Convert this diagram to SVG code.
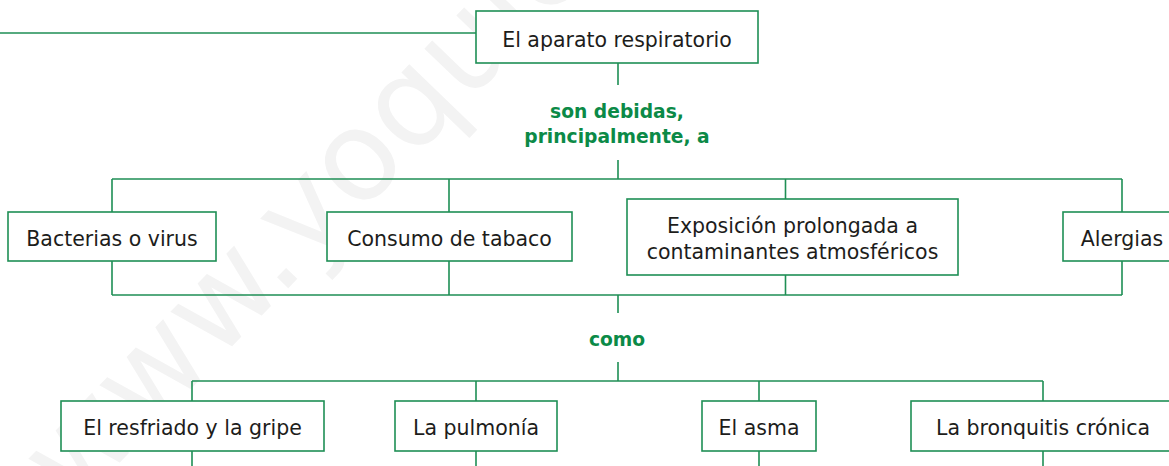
<svg xmlns="http://www.w3.org/2000/svg" width="1169" height="466" viewBox="0 0 1169 466">
  <style>
    .box { fill: #ffffff; stroke: #1f8f55; stroke-width: 1.6; }
    .lbl { font-family: "DejaVu Sans", "Liberation Sans", sans-serif; font-size: 20.5px; fill: #1d1d1b; text-anchor: middle; }
    .conn { fill: none; stroke: #1f8f55; stroke-width: 1.6; }
    .link { font-family: "DejaVu Sans", "Liberation Sans", sans-serif; font-size: 18.7px; font-weight: bold; fill: #0b8a47; text-anchor: middle; }
    .wm { font-family: "DejaVu Sans", "Liberation Sans", sans-serif; font-size: 125px; fill: #f3f3f3; }
  </style>
  <rect width="1169" height="466" fill="#ffffff"/>
  <text class="wm" transform="translate(74 510) rotate(-46)">www.yoquieroaprobar.es</text>
  <g id="connectors">
    <path class="conn" d="M0 33 H476 M618 63 V85 M618 160 V179 M112 179 H1122 M112 179 V212 M449 179 V212 M785.5 179 V199 M1122 179 V212 M112 261 V295 M449 261 V295 M785.5 275 V295 M1122 261 V295 M112 295 H1122 M618 295 V313 M618 362 V381 M192 381 H1043 M192 381 V401 M476 381 V401 M759 381 V401 M1043 381 V401 M192 451 V466 M476 451 V466 M759 451 V466 M1043 451 V466"/>
  </g>
  <g id="label-son-debidas">
    <text class="link" x="617" y="118">son debidas,</text>
    <text class="link" x="617" y="143">principalmente, a</text>
  </g>
  <g id="label-como">
    <text class="link" x="617" y="346">como</text>
  </g>
  <g id="node-aparato">
    <rect class="box" x="476" y="11" width="282" height="52"/>
    <text class="lbl" x="617" y="46.5">El aparato respiratorio</text>
  </g>
  <g id="node-bacterias">
    <rect class="box" x="8" y="212" width="208" height="49"/>
    <text class="lbl" x="112" y="245.5">Bacterias o virus</text>
  </g>
  <g id="node-tabaco">
    <rect class="box" x="327" y="212" width="245" height="49"/>
    <text class="lbl" x="449.5" y="245.5">Consumo de tabaco</text>
  </g>
  <g id="node-exposicion">
    <rect class="box" x="627" y="199" width="331" height="76"/>
    <text class="lbl" x="792.5" y="233">Exposición prolongada a</text>
    <text class="lbl" x="792.5" y="259">contaminantes atmosféricos</text>
  </g>
  <g id="node-alergias">
    <rect class="box" x="1063" y="212" width="118" height="49"/>
    <text class="lbl" x="1122" y="245.5">Alergias</text>
  </g>
  <g id="node-resfriado">
    <rect class="box" x="61" y="401" width="263" height="50"/>
    <text class="lbl" x="192.5" y="435">El resfriado y la gripe</text>
  </g>
  <g id="node-pulmonia">
    <rect class="box" x="395" y="401" width="162" height="50"/>
    <text class="lbl" x="476" y="435">La pulmonía</text>
  </g>
  <g id="node-asma">
    <rect class="box" x="702" y="401" width="114" height="50"/>
    <text class="lbl" x="759" y="435">El asma</text>
  </g>
  <g id="node-bronquitis">
    <rect class="box" x="911" y="401" width="264" height="50"/>
    <text class="lbl" x="1043" y="435">La bronquitis crónica</text>
  </g>
</svg>
